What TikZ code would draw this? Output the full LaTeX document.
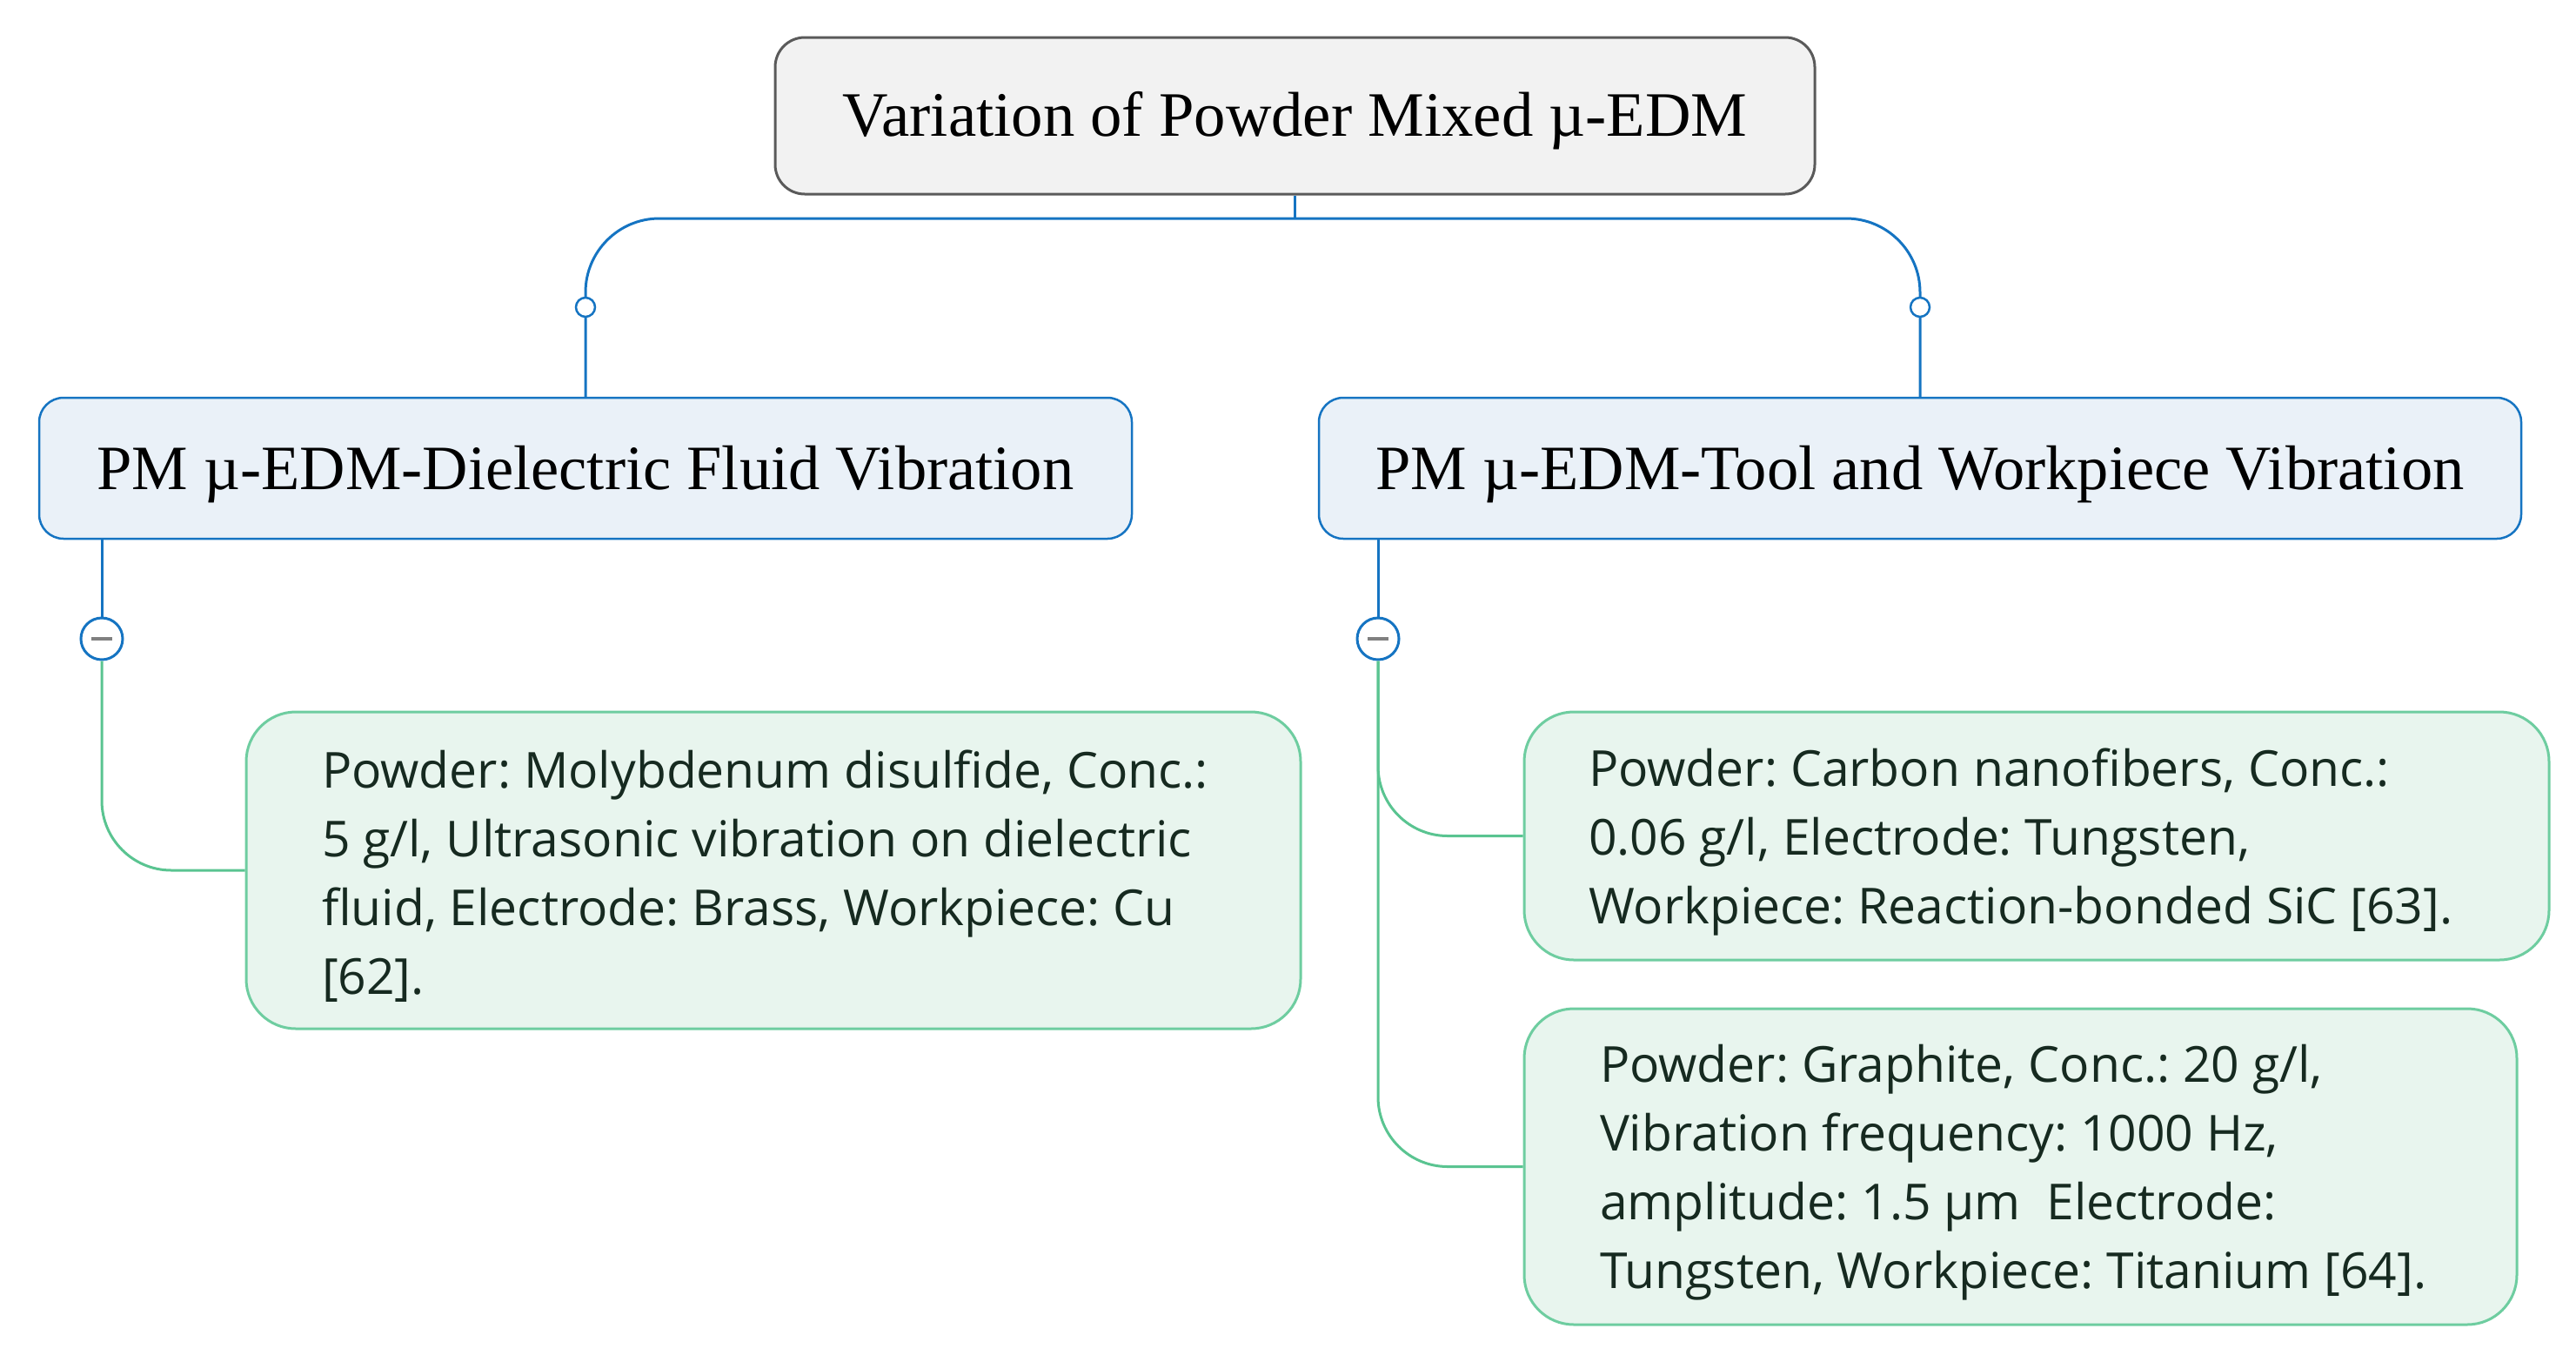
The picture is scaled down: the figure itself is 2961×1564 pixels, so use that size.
\documentclass[tikz,border=0pt]{standalone}
\usepackage{fontspec}
\setmainfont{Liberation Serif}
\newfontfamily\leaffont{Open Sans}
\frenchspacing
\definecolor{blueln}{RGB}{21,116,194}
\definecolor{midfill}{RGB}{234,241,248}
\definecolor{topfill}{RGB}{242,242,242}
\definecolor{topdraw}{RGB}{90,90,90}
\definecolor{leaffill}{RGB}{232,245,238}
\definecolor{leafdraw}{RGB}{110,205,160}
\definecolor{greenln}{RGB}{90,196,145}
\definecolor{leaftext}{RGB}{22,42,32}
\newcommand{\dn}[2]{\raisebox{-#1}[\height][\depth]{#2}}
\newcommand{\leaftxt}[2]{\dn{7pt}{\parbox{#1}{\raggedright #2}}}
\begin{document}
\begin{tikzpicture}[x=1pt,y=-1pt,
  topbox/.style={draw=topdraw, line width=3pt, fill=topfill, rounded corners=34pt,
    minimum width=1195pt, minimum height=180pt, inner sep=0pt,
    font=\fontsize{72.7pt}{80pt}\selectfont},
  midbox/.style={draw=blueln, line width=2.5pt, fill=midfill, rounded corners=28pt,
    minimum height=162pt, inner sep=0pt,
    font=\fontsize{72.5pt}{78pt}\selectfont},
  leafbox/.style={draw=leafdraw, line width=3pt, fill=leaffill, rounded corners=57pt,
    inner ysep=0pt, text=leaftext,
    font=\leaffont\fontsize{57pt}{79pt}\selectfont},
  blueline/.style={draw=blueln, line width=3pt},
  greenline/.style={draw=greenln, line width=3pt},
  smallcirc/.style={circle, draw=blueln, line width=2.5pt, fill=white, minimum size=22pt, inner sep=0pt},
  minuscirc/.style={circle, draw=blueln, line width=3pt, fill=white, minimum size=48pt, inner sep=0pt},
]
\useasboundingbox (0,0) rectangle (2961,1564);

% nodes
\node[topbox] (top) at (1488.5,133) {\dn{6pt}{Variation of Powder Mixed µ-EDM}};
\node[midbox, minimum width=1256pt] (M1) at (673,538) {\dn{7pt}{PM µ-EDM-Dielectric Fluid Vibration}};
\node[midbox, minimum width=1382pt] (M2) at (2207,538) {\dn{7pt}{PM µ-EDM-Tool and Workpiece Vibration}};

\node[leafbox, inner xsep=87pt, minimum height=364pt] (L1) at (889,1000)
  {\leaftxt{1038pt}{Powder: Molybdenum disulfide, Conc.:\\5 g/l, Ultrasonic vibration on dielectric\\fluid, Electrode: Brass, Workpiece: Cu\\{}[62].}};
\node[leafbox, inner xsep=74pt, minimum height=285pt] (R1) at (2341,960.5)
  {\leaftxt{1030pt}{Powder: Carbon nanofibers, Conc.:\\0.06 g/l, Electrode: Tungsten,\\Workpiece: Reaction-bonded SiC [63].}};
\node[leafbox, inner xsep=87pt, minimum height=363pt] (R2) at (2322.5,1340.5)
  {\leaftxt{967pt}{Powder: Graphite, Conc.: 20 g/l,\\Vibration frequency: 1000 Hz,\\amplitude: 1.5 µm\ \ Electrode:\\Tungsten, Workpiece: Titanium [64].}};

% top connectors
\coordinate (bar) at (1488.5,251);
\draw[blueline] (top.south) -- (bar);
\draw[blueline, rounded corners=85pt] (M1.north) -- (M1.north |- bar) -- (M2.north |- bar) -- (M2.north);
\node[smallcirc] (c1) at (673,353) {};
\node[smallcirc] (c2) at (2207,353) {};

% left branch
\node[minuscirc] (mn1) at (117,734) {};
\draw[blueline] (mn1 |- M1.south) -- (mn1.north);
\draw[greenline, rounded corners=80pt] (mn1.south) -- (mn1 |- L1.west) -- (L1.west);
\draw[gray, line width=4pt] ([xshift=-12pt]mn1.center) -- ([xshift=12pt]mn1.center);

% right branch
\node[minuscirc] (mn2) at (1584,734) {};
\draw[blueline] (mn2 |- M2.south) -- (mn2.north);
\draw[greenline, rounded corners=80pt] (mn2.south) -- (mn2 |- R2.west) -- (R2.west);
\draw[greenline, rounded corners=80pt] (mn2.south) -- (mn2 |- R1.west) -- (R1.west);
\draw[gray, line width=4pt] ([xshift=-12pt]mn2.center) -- ([xshift=12pt]mn2.center);
\end{tikzpicture}
\end{document}
